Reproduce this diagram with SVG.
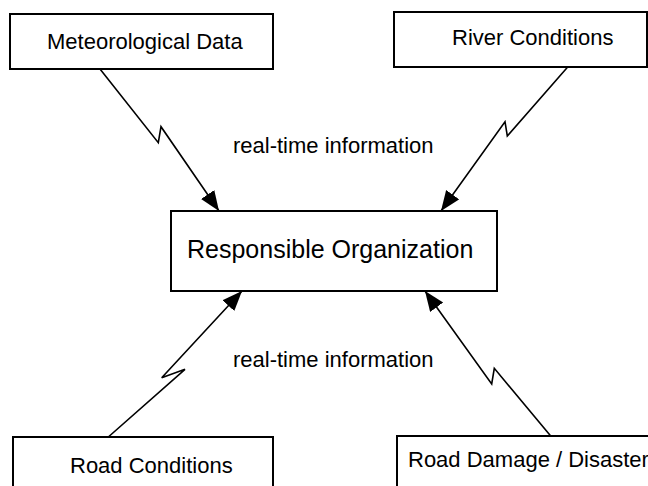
<svg xmlns="http://www.w3.org/2000/svg" width="648" height="486" viewBox="0 0 648 486">
  <style>
    .box { fill: #ffffff; stroke: #000000; stroke-width: 2; }
    .lbl { font-family: "Liberation Sans", Arial, sans-serif; font-size: 22px; fill: #000000; }
    .main { font-size: 25px; }
    .link { fill: none; stroke: #000000; stroke-width: 1.6; stroke-linejoin: miter; }
  </style>
  <defs>
    <marker id="head" markerUnits="userSpaceOnUse" markerWidth="22" markerHeight="18" refX="20" refY="8" orient="auto">
      <path d="M0,0 L20,8 L0,16 Z" fill="#000000"/>
    </marker>
  </defs>

  <rect width="648" height="486" fill="#ffffff"/>

  <!-- lightning-style links pointing into the central box -->
  <g id="connectors">
    <path class="link" d="M100,69 L158.3,142.7 L161,126.7 L219,211" marker-end="url(#head)"/>
    <path class="link" d="M567.7,67 L507.3,136 L505,121.7 L441,211" marker-end="url(#head)"/>
    <path class="link" d="M108.3,437 L185,369.3 L161.7,377.7 L242,291" marker-end="url(#head)"/>
    <path class="link" d="M550.7,436 L494.3,368.3 L491.7,384 L425,291" marker-end="url(#head)"/>
  </g>

  <g id="label-top">
    <text class="lbl" x="233" y="153">real-time information</text>
  </g>
  <g id="label-bottom">
    <text class="lbl" x="233" y="367">real-time information</text>
  </g>

  <g id="meteorological-data">
    <rect class="box" x="10" y="14" width="263" height="55"/>
    <text class="lbl" x="47" y="49">Meteorological Data</text>
  </g>

  <g id="river-conditions">
    <rect class="box" x="394" y="12" width="253" height="55"/>
    <text class="lbl" x="452" y="45">River Conditions</text>
  </g>

  <g id="responsible-organization">
    <rect class="box" x="171" y="211" width="326" height="80"/>
    <text class="lbl main" x="187" y="258">Responsible Organization</text>
  </g>

  <g id="road-conditions">
    <rect class="box" x="13" y="437" width="260" height="70"/>
    <text class="lbl" x="70" y="473">Road Conditions</text>
  </g>

  <g id="road-damage">
    <rect class="box" x="397" y="436" width="280" height="70"/>
    <text class="lbl" x="408" y="467">Road Damage / Disaster</text>
  </g>
</svg>
